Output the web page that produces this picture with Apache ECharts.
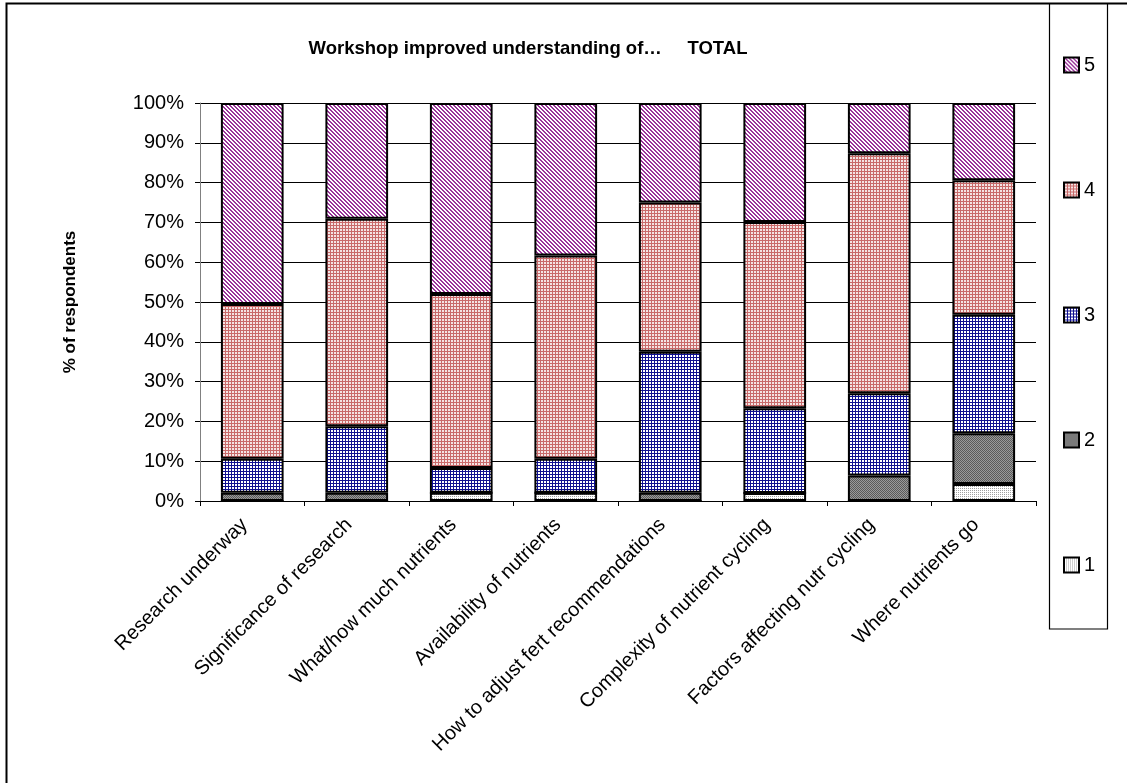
<!DOCTYPE html>
<html style="height: 100%">
<head>
<meta charset="utf-8">
<script src="https://cdn.jsdelivr.net/npm/echarts@6/dist/echarts.min.js"></script>
</head>
<body style="height: 100%; margin: 0; background: #fff">
<div id="container" style="width: 1127px; height: 783px"></div>
<script type="text/javascript">
var categories = ['Research underway', 'Significance of research', 'What/how much nutrients',
    'Availability of nutrients', 'How to adjust fert recommendations', 'Complexity of nutrient cycling',
    'Factors affecting nutr cycling', 'Where nutrients go'];
var seriesNames = ['1', '2', '3', '4', '5'];
// percent of respondents per rating
var r1 = [0, 0, 2.1, 2.1, 0, 2.0, 0, 4.3];
var r2 = [2.1, 2.1, 0, 0, 2.1, 0, 6.4, 12.7];
var r3 = [8.5, 16.7, 6.2, 8.5, 35.4, 21.3, 20.7, 29.8];
var r4 = [38.9, 52.1, 43.7, 51.1, 37.5, 46.8, 60.3, 33.8];
var r5 = [50.5, 29.1, 48.0, 38.3, 25.0, 29.9, 12.6, 19.4];
var yTicks = [0, 10, 20, 30, 40, 50, 60, 70, 80, 90, 100];

function pattern(size, bg, fg, test) {
    var c = document.createElement('canvas');
    c.width = size; c.height = size;
    var ctx = c.getContext('2d');
    ctx.fillStyle = bg;
    ctx.fillRect(0, 0, size, size);
    ctx.fillStyle = fg;
    for (var x = 0; x < size; x++) {
        for (var y = 0; y < size; y++) {
            if (test(x, y)) ctx.fillRect(x, y, 1, 1);
        }
    }
    return { image: c, repeat: 'repeat' };
}

var fills = [
    pattern(4, '#ffffff', '#a0a0a0', function (x, y) { return y % 2 === 0 && x % 2 === 0; }),
    pattern(2, '#9a9a9a', '#5a5a5a', function (x, y) { return (x + y) % 2 === 0; }),
    pattern(3, '#ffffff', '#101090', function (x, y) { return x === 0 || y === 0; }),
    pattern(3, '#f4e4e4', '#c86a6a', function (x, y) { return x === 0 || y === 0; }),
    pattern(4, '#ffffff', '#993399', function (x, y) { return (x - y + 8) % 4 < 2; })
];

var dataSets = [r1, r2, r3, r4, r5];
var font = 'Liberation Sans, Arial';

var chart = echarts.init(document.getElementById('container'));
var option = {
    animation: false,
    backgroundColor: '#ffffff',
    title: {
        text: 'Workshop improved understanding of\u2026     TOTAL',
        left: 523,
        textAlign: 'center',
        top: 34,
        textStyle: { fontFamily: font, fontSize: 18.5, fontWeight: 'bold', color: '#000' }
    },
    legend: {
        orient: 'vertical',
        left: 1063,
        top: 55,
        padding: 0,
        itemWidth: 15,
        itemHeight: 15,
        itemGap: 105,
        icon: 'rect',
        data: ['5', '4', '3', '2', '1'],
        textStyle: { fontFamily: font, fontSize: 20, color: '#000' }
    },
    grid: { left: 200, right: 91, top: 103, bottom: 282, containLabel: false },
    xAxis: {
        type: 'category',
        data: categories,
        axisLine: { lineStyle: { color: '#000', width: 1 } },
        axisTick: { show: true, length: 5, lineStyle: { color: '#000' } },
        axisLabel: {
            rotate: 45, interval: 0, margin: 13,
            padding: [0, 11, 0, 0],
            fontFamily: font, fontSize: 20, color: '#000'
        }
    },
    yAxis: {
        type: 'value',
        min: 0, max: 100, interval: 10,
        name: '% of respondents',
        nameLocation: 'middle',
        nameGap: 121,
        nameTextStyle: { fontFamily: font, fontSize: 17, fontWeight: 'bold', color: '#000' },
        axisLine: { show: true, lineStyle: { color: '#808080' } },
        axisTick: { show: true, length: 5, lineStyle: { color: '#000' } },
        splitLine: { show: true, lineStyle: { color: '#000', width: 1 } },
        axisLabel: {
            margin: 16,
            fontFamily: font, fontSize: 20, color: '#000',
            formatter: function (v) { return yTicks.indexOf(v) >= 0 ? v + '%' : ''; }
        }
    },
    series: seriesNames.map(function (name, i) {
        return {
            name: name,
            type: 'bar',
            stack: 'total',
            barCategoryGap: '40%',
            data: dataSets[i],
            itemStyle: { color: fills[i], borderColor: '#000', borderWidth: 2 }
        };
    })
};
chart.setOption(option);
chart.setOption({
    graphic: [
        { type: 'rect', shape: { x: 6.5, y: 3.5, width: 1200, height: 900 }, style: { fill: 'none', stroke: '#000', lineWidth: 2 }, silent: true, z: 100 },
        { type: 'rect', shape: { x: 1049.5, y: 3.5, width: 58, height: 625.5 }, style: { fill: 'none', stroke: '#000', lineWidth: 1.2 }, silent: true, z: 100 }
    ]
});
</script>
</body>
</html>
